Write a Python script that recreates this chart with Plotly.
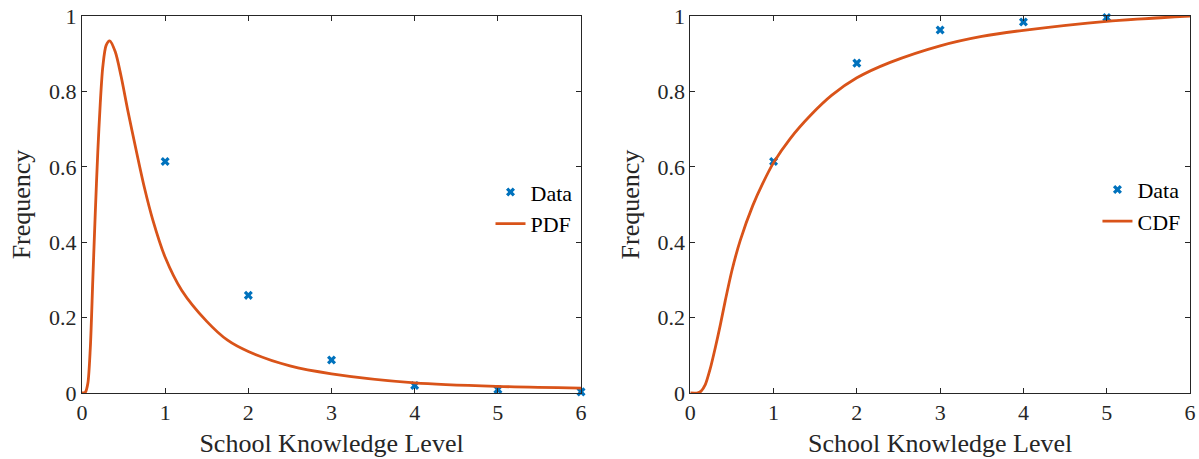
import plotly.graph_objects as go

# ---- data ----
levels = [1, 2, 3, 4, 5, 6]
pdf_data = [0.614, 0.259, 0.0875, 0.020, 0.009, 0.003]

cdf_levels = [1, 2, 3, 4, 5]
cdf_data = [0.614, 0.875, 0.963, 0.984, 0.996]

pdf_x = [0, 0.04, 0.07, 0.10, 0.13, 0.16, 0.19, 0.22, 0.25, 0.29, 0.333,
         0.40, 0.47, 0.55, 0.65, 0.75, 0.85, 1.0, 1.2, 1.5, 1.75, 2.0, 2.5,
         3.0, 4.0, 5.0, 6.0]
pdf_y = [0, 0.002, 0.025, 0.12, 0.30, 0.48, 0.64, 0.77, 0.865, 0.922, 0.934,
         0.905, 0.84, 0.75, 0.645, 0.545, 0.46, 0.36, 0.272, 0.19, 0.14, 0.11, 0.072,
         0.051, 0.027, 0.0175, 0.013]

cdf_x = [0, 0.08, 0.13, 0.18, 0.24, 0.30, 0.36, 0.42, 0.50, 0.60, 0.75, 0.87, 1.0,
         1.2, 1.45, 1.7, 2.0, 2.4, 3.0, 3.5, 4.0, 5.0, 6.0]
cdf_y = [0, 0, 0.005, 0.022, 0.065, 0.12, 0.18, 0.245, 0.325, 0.405, 0.497, 0.556, 0.611,
         0.675, 0.738, 0.79, 0.836, 0.877, 0.921, 0.946, 0.962, 0.986, 1.0]

BLUE = "#0072BD"
ORANGE = "#D95319"
AX = "#262626"
FONT = "Liberation Serif"

fig = go.Figure()

fig.add_trace(go.Scatter(x=levels, y=pdf_data, mode="markers", name="Data",
                         marker=dict(symbol="x", size=8, color=BLUE, line=dict(width=0)),
                         cliponaxis=False, xaxis="x", yaxis="y", legend="legend"))
fig.add_trace(go.Scatter(x=pdf_x, y=pdf_y, mode="lines", name="PDF",
                         line=dict(color=ORANGE, width=2.8, shape="spline", smoothing=0.8),
                         xaxis="x", yaxis="y", legend="legend"))

fig.add_trace(go.Scatter(x=cdf_levels, y=cdf_data, mode="markers", name="Data",
                         marker=dict(symbol="x", size=8, color=BLUE, line=dict(width=0)),
                         cliponaxis=False, xaxis="x2", yaxis="y2", legend="legend2"))
fig.add_trace(go.Scatter(x=cdf_x, y=cdf_y, mode="lines", name="CDF",
                         line=dict(color=ORANGE, width=2.8, shape="spline", smoothing=0.7),
                         xaxis="x2", yaxis="y2", legend="legend2"))

xcommon = dict(range=[0, 6], dtick=1, tick0=0, ticks="inside", ticklen=5, tickcolor=AX,
               showline=True, linecolor=AX, linewidth=1, mirror="ticks",
               showgrid=False, zeroline=False, automargin=False,
               ticklabeloverflow="allow",
               tickfont=dict(family=FONT, size=22, color=AX),
               title=dict(text="School Knowledge Level",
                          font=dict(family=FONT, size=26, color=AX), standoff=9))
ycommon = dict(range=[0, 1], dtick=0.2, tick0=0, ticks="inside", ticklen=5, tickcolor=AX,
               showline=True, linecolor=AX, linewidth=1, mirror="ticks",
               showgrid=False, zeroline=False, automargin=False,
               ticklabeloverflow="allow",
               tickfont=dict(family=FONT, size=22, color=AX),
               title=dict(text="Frequency",
                          font=dict(family=FONT, size=26, color=AX), standoff=10))

fig.update_layout(
    width=1199, height=459,
    margin=dict(l=82, r=9, t=16, b=66),
    paper_bgcolor="white", plot_bgcolor="white",
    xaxis=dict(domain=[0, 0.4504], anchor="y", **xcommon),
    yaxis=dict(domain=[0, 1], anchor="x", **ycommon),
    xaxis2=dict(domain=[0.549, 1], anchor="y2", **xcommon),
    yaxis2=dict(domain=[0, 1], anchor="x2", **ycommon),
    legend=dict(x=0.4472, xanchor="right", y=0.49, yanchor="middle",
                bgcolor="rgba(0,0,0,0)", font=dict(family=FONT, size=22, color="black")),
    legend2=dict(x=0.9959, xanchor="right", y=0.497, yanchor="middle",
                 bgcolor="rgba(0,0,0,0)", font=dict(family=FONT, size=22, color="black")),
    showlegend=True,
)

# remove the default 8px page margin so the figure fills the window exactly
fig.write_html("out.html", config={"displayModeBar": False},
               post_script="document.body.style.margin='0';document.body.style.overflow='hidden';")
